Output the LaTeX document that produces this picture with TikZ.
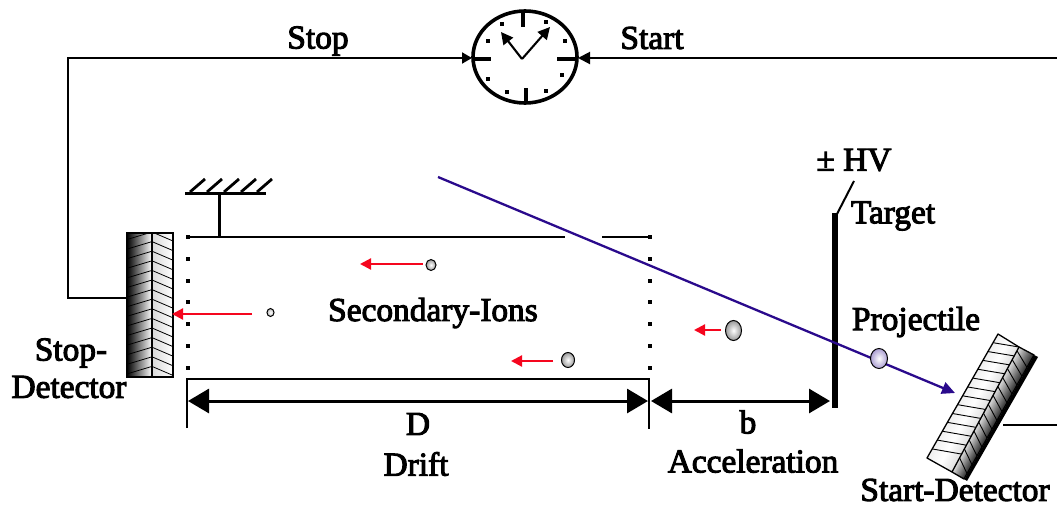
\documentclass[tikz,border=0pt]{standalone}
\usepackage{fontspec}
\setmainfont{Liberation Serif}[FakeBold=3]
\usetikzlibrary{arrows.meta,calc}
\definecolor{beam}{HTML}{2A0A8C}
\definecolor{redarrow}{HTML}{F5061E}
\tikzset{
  wire/.style={draw=black,line width=2pt},
  txt/.style={font=\fontsize{33.4}{36}\selectfont,inner sep=0pt,text=black},
  bigdim/.style={line width=3pt,{Triangle[length=21pt,width=24pt]}-{Triangle[length=21pt,width=24pt]}},
  redar/.style={draw=redarrow,line width=2.2pt,-{Triangle[length=11pt,width=11pt]}},
  ionball/.style={draw=black,line width=1pt,inner color=white,outer color=black!40},
  dotmark/.style={fill=black,minimum size=3.8pt,inner sep=0pt},
  clocktick/.style={line width=3.2pt},
}
\begin{document}
\begin{tikzpicture}[x=1pt,y=-1pt]
\useasboundingbox (0,0) rectangle (1057,506);
% stop detector
\shade[left color=black,right color=white] (127,233) rectangle (152,377);
\shade[left color=black!15,right color=white] (152,233) rectangle (173,377);
\begin{scope}
\clip (127,233) rectangle (173,377);
\foreach \i in {0,...,15}{
  \pgfmathsetmacro{\yy}{233+9.6*\i}
  \draw[line width=.8pt] (127,\yy+6.5) -- (152,\yy-1) -- (173,\yy+8);
}
\end{scope}
\draw[line width=1.1pt] (127,233) rectangle (173,377) (152,233) -- (152,377);
\coordinate (stopdet) at (127,298);
% clock
\coordinate (clockc) at (525,57);
\draw[line width=3.6pt] (clockc) ellipse [x radius=52,y radius=46];
\coordinate (clockw) at (472,58);
\coordinate (clocke) at (578,58);
\draw[clocktick] (523,12) -- (523,27);
\draw[clocktick] (526,88) -- (526,103);
\draw[clocktick] (472,59) -- (491,59);
\draw[clocktick] (557,59) -- (577,59);
\foreach \p in {(502,24),(546,22),(488,41),(565,41),(488,79),(562,75),(507,92),(546,91)}
  \node[dotmark] at \p {};
\coordinate (hub) at (522,59);
\coordinate (hand1) at (501,32);
\coordinate (hand2) at (550,27);
\draw[line width=2.1pt,-{Triangle[length=12pt,width=12pt]}] (hub) -- (hand1);
\draw[line width=2.1pt,-{Triangle[length=12pt,width=12pt]}] (hub) -- (hand2);
% wires
\coordinate (corner) at (68,58);
\coordinate (corner2) at (68,298);
\draw[wire,-{Triangle[length=10pt,width=11pt]}] (stopdet) -- (corner2) -- (corner) -- (clockw);
\coordinate (right1) at (1057,58);
\draw[wire,-{Triangle[length=12pt,width=12pt]}] (right1) -- (clocke);
% ground
\coordinate (gl) at (185,193);
\coordinate (gr) at (266,193);
\draw[line width=3pt] (gl) -- (gr);
\foreach \x in {190,207,224,241,257}
  \draw[line width=2.8pt] (\x,192) -- (\x+15,179);
\coordinate (gs) at (219.5,193);
\coordinate (ge) at (219.5,237);
\draw[line width=2.2pt] (gs) -- (ge);
% drift box
\draw[line width=2.2pt] (187,237) -- (565,237);
\draw[line width=2.2pt] (602,237) -- (651,237);
\foreach \y in {237,259,281,302,324,346,368}{
  \node[dotmark] at (188,\y) {};
  \node[dotmark] at (650,\y) {};
}
% dimension lines
\draw[line width=2.2pt] (187,428) -- (187,379) -- (649,379) -- (649,429);
\coordinate (d1) at (188,401);
\coordinate (d2) at (648,401);
\coordinate (b1) at (651,401);
\coordinate (b2) at (830,401);
\draw[bigdim] (d1) -- (d2);
\draw[bigdim] (b1) -- (b2);
% target
\fill[black] (832,213) rectangle (838,408);
\coordinate (hvtop) at (854,181);
\coordinate (hvbot) at (837,214);
\draw[line width=2pt] (hvtop) -- (hvbot);
% start detector
\coordinate (L1) at (998,334); \coordinate (L2) at (927,458);
\coordinate (M1) at (1019,347); \coordinate (M2) at (952,472);
\coordinate (R1) at (1034,355); \coordinate (R2) at (964,479);
\coordinate (B1) at (1038,357); \coordinate (B2) at (967,481);
\fill[black] (R1) -- (B1) -- (B2) -- (R2) -- cycle;
\foreach \k in {0,...,24}{
  \pgfmathsetmacro{\f}{\k/25}
  \pgfmathsetmacro{\g}{\f<0.5 ? 6*(1-\f/0.5) : 12*(\f-0.5)/0.5}
  \fill[black!\g] ($(L1)!\f!(M1)$) -- (M1) -- (M2) -- ($(L2)!\f!(M2)$) -- cycle;
}
\foreach \k in {0,...,24}{
  \pgfmathsetmacro{\f}{\k/25}
  \pgfmathsetmacro{\g}{12+70*\f}
  \fill[black!\g] ($(M1)!\f!(R1)$) -- (R1) -- (R2) -- ($(M2)!\f!(R2)$) -- cycle;
}
\foreach \i in {0,...,12}{
  \pgfmathsetmacro{\ta}{0.07+\i*0.0714}
  \pgfmathsetmacro{\tb}{\i*0.0714}
  \draw[line width=.9pt] ($(L1)!\ta!(L2)$) -- ($(M1)!\tb!(M2)$);
}
\foreach \i in {0,...,12}{
  \pgfmathsetmacro{\ta}{0.0714*\i+0.03}
  \pgfmathsetmacro{\tb}{0.0714*\i+0.1}
  \draw[line width=.9pt] ($(M1)!\ta!(M2)$) -- ($(R1)!\tb!(R2)$);
}
\draw[line width=1.3pt,line join=round] (L1) -- (M1) -- (M2) -- (L2) -- cycle;
\draw[line width=1.3pt,line join=round] (M1) -- (R1) -- (R2) -- (M2);
\coordinate (sdw) at (1003,425);
\coordinate (sde) at (1057,425);
\draw[wire] (sdw) -- (sde);
% beam
\coordinate (beamS) at (438,177);
\coordinate (beamE) at (955,393);
\draw[draw=beam,line width=2.3pt,-{Triangle[length=13pt,width=12pt]},color=beam] (beamS) -- (beamE);
% ions
\draw[ionball,inner color=white,outer color=black!25] (270.5,312.5) ellipse [x radius=3.5,y radius=4];
\draw[ionball] (431,265) ellipse [x radius=5,y radius=5.5];
\draw[ionball] (568,360) ellipse [x radius=6.5,y radius=7.5];
\draw[ionball] (733.5,330.5) ellipse [x radius=8,y radius=10];
\draw[ionball,outer color=beam!40,inner color=white] (879,358.5) ellipse [x radius=8.5,y radius=10];
\coordinate (r1a) at (252,314); \coordinate (r1b) at (172,314);
\coordinate (r2a) at (423,264); \coordinate (r2b) at (360,264);
\coordinate (r3a) at (553,361); \coordinate (r3b) at (511,361);
\coordinate (r4a) at (721,330); \coordinate (r4b) at (694,330);
\draw[redar] (r1a) -- (r1b);
\draw[redar] (r2a) -- (r2b);
\draw[redar] (r3a) -- (r3b);
\draw[redar] (r4a) -- (r4b);
% text
\node[txt] (tstop) at (318,41) {Stop};
\node[txt] (tstart) at (652,38) {Start};
\node[txt] (thv) at (854,160) {± HV};
\node[txt] (ttarget) at (893,216) {Target};
\node[txt] (tproj) at (916,322) {Projectile};
\node[txt] (tsec) at (433,313) {Secondary-Ions};
\node[txt] (tsd1) at (71,353) {Stop-};
\node[txt] (tsd2) at (69,387) {Detector};
\node[txt] (tD) at (418,424) {D};
\node[txt] (tdrift) at (416,464) {Drift};
\node[txt] (tb) at (748,422) {b};
\node[txt] (tacc) at (753,461) {Acceleration};
\node[txt] (tstartd) at (955,490) {Start-Detector};
\end{tikzpicture}
\end{document}
